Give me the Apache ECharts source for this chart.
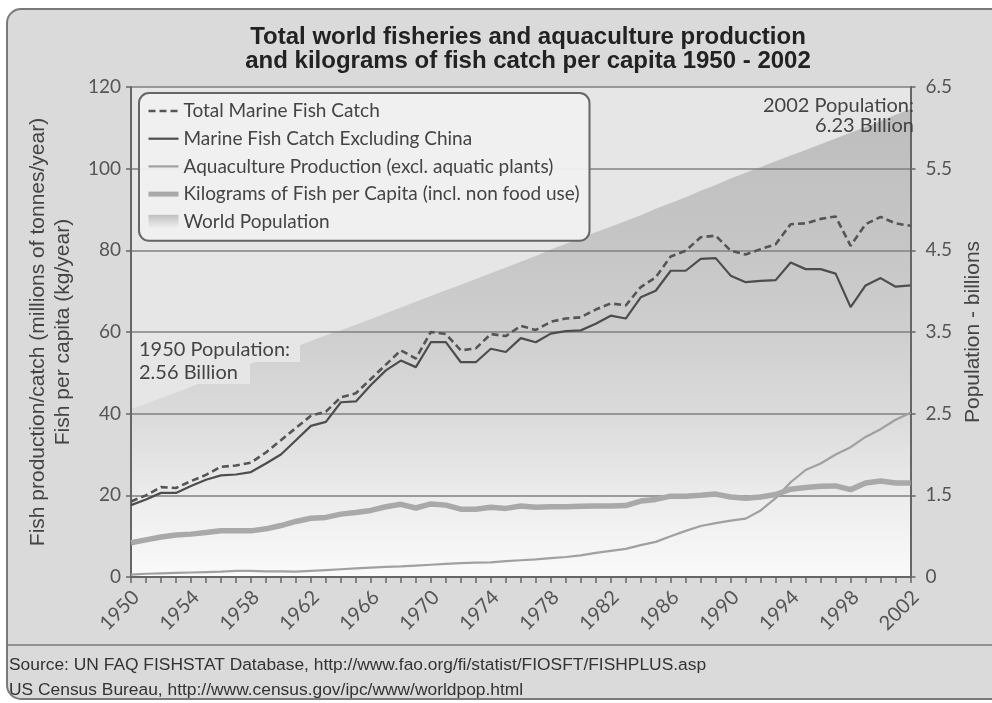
<!DOCTYPE html>
<html>
<head>
<meta charset="utf-8">
<script src="https://cdn.jsdelivr.net/npm/echarts@6/dist/echarts.min.js"></script>
<style>
html,body{margin:0;padding:0;background:#ffffff;}
#chart{width:992px;height:703px;}
</style>
</head>
<body>
<div id="chart"></div>
<script>
// ---- Data ----
const years = ['1950','1951','1952','1953','1954','1955','1956','1957','1958','1959',
  '1960','1961','1962','1963','1964','1965','1966','1967','1968','1969',
  '1970','1971','1972','1973','1974','1975','1976','1977','1978','1979',
  '1980','1981','1982','1983','1984','1985','1986','1987','1988','1989',
  '1990','1991','1992','1993','1994','1995','1996','1997','1998','1999',
  '2000','2001','2002'];

// Total Marine Fish Catch (millions of tonnes)
const totalCatch = [18.5,20.0,22.0,21.8,23.5,25.0,27.0,27.3,28.0,30.5,
  33.5,36.5,39.5,40.5,44.0,45.0,48.5,52.0,55.5,53.5,
  60.0,59.5,55.5,56.0,59.5,59.0,61.5,60.5,62.5,63.3,
  63.6,65.5,67.0,66.5,71.0,73.4,78.5,79.9,83.2,83.6,
  79.9,79.0,80.3,81.5,86.4,86.6,87.7,88.3,81.1,86.4,
  88.2,86.6,86.0];

// Marine Fish Catch Excluding China
const exclChina = [17.6,19.0,20.6,20.6,22.3,23.8,24.9,25.1,25.7,27.8,
  30.0,33.5,37.0,38.0,42.8,43.0,47.0,50.6,53.0,51.4,
  57.5,57.5,52.6,52.6,55.9,55.1,58.5,57.5,59.6,60.2,
  60.4,62.0,64.0,63.3,68.5,70.1,75.0,75.0,77.9,78.1,
  73.8,72.2,72.5,72.7,77.0,75.4,75.4,74.3,66.1,71.4,
  73.2,71.1,71.4];

// Aquaculture Production (excl. aquatic plants)
const aquaculture = [0.6,0.8,0.9,1.0,1.1,1.2,1.3,1.5,1.5,1.4,
  1.4,1.3,1.5,1.7,1.9,2.1,2.3,2.5,2.6,2.8,
  3.0,3.2,3.4,3.5,3.6,3.9,4.1,4.3,4.6,4.9,
  5.3,5.9,6.4,6.9,7.8,8.6,10.0,11.3,12.5,13.2,
  13.8,14.3,16.3,19.3,23.2,26.2,27.8,30.0,31.8,34.3,
  36.2,38.5,40.2];

// Kilograms of Fish per Capita
const perCapita = [8.4,9.1,9.8,10.3,10.5,10.9,11.3,11.3,11.3,11.8,
  12.6,13.6,14.4,14.6,15.4,15.8,16.3,17.2,17.8,16.9,
  17.9,17.6,16.6,16.6,17.1,16.8,17.4,17.1,17.2,17.2,
  17.3,17.4,17.4,17.5,18.6,19.0,19.8,19.8,20.0,20.3,
  19.6,19.3,19.6,20.2,21.5,21.9,22.2,22.3,21.4,23.0,
  23.5,23.0,23.0];

// World Population (billions)
const population = [2.56,2.62,2.69,2.76,2.83,2.90,2.97,3.04,3.11,3.18,
  3.25,3.32,3.39,3.46,3.52,3.59,3.66,3.73,3.80,3.87,
  3.94,4.01,4.08,4.15,4.22,4.29,4.36,4.43,4.51,4.58,
  4.65,4.72,4.79,4.86,4.93,5.01,5.08,5.15,5.23,5.30,
  5.38,5.45,5.52,5.59,5.66,5.73,5.80,5.87,5.94,6.01,
  6.08,6.16,6.23];

const rightTickLabels = ['0','1.5','2.5','3.5','4.5','5.5','6.5'];

const seriesNames = [
  'Total Marine Fish Catch',
  'Marine Fish Catch Excluding China',
  'Aquaculture Production (excl. aquatic plants)',
  'Kilograms of Fish per Capita (incl. non food use)',
  'World Population'
];

const titleLines = [
  'Total world fisheries and aquaculture production',
  'and kilograms of fish catch per capita 1950 - 2002'
];
const sourceLines = [
  'Source: UN FAQ FISHSTAT Database, http://www.fao.org/fi/statist/FIOSFT/FISHPLUS.asp',
  'US Census Bureau, http://www.census.gov/ipc/www/worldpop.html'
];

// ---- Chart ----
const chart = echarts.init(document.getElementById('chart'), null, {renderer:'canvas'});
const LG = echarts.graphic.LinearGradient;
const tickFont = 'Lato';
const sansFont = '"Liberation Sans", Arial, sans-serif';
const plotBg = '#e6e6e6';

const option = {
  animation: false,
  backgroundColor: '#ffffff',
  grid: {
    left: 131, right: 70, top: 87, bottom: 126,
    show: true, backgroundColor: plotBg, borderWidth: 0, z: -2
  },
  legend: {
    orient: 'vertical',
    left: 139, top: 93,
    padding: [8, 10, 9, 7],
    itemGap: 7.7,
    itemWidth: 30, itemHeight: 14,
    backgroundColor: 'rgba(240,240,240,0.95)',
    borderColor: '#666', borderWidth: 2, borderRadius: 10,
    itemStyle: { opacity: 0 },
    textStyle: { fontFamily: tickFont, fontSize: 19, color: '#444', lineHeight: 20 },
    data: [
      { name: seriesNames[0], lineStyle: { width: 2.4 } },
      { name: seriesNames[1], lineStyle: { width: 2.2 } },
      { name: seriesNames[2], lineStyle: { width: 2.2 } },
      { name: seriesNames[3], lineStyle: { width: 5 } },
      { name: seriesNames[4], icon: 'rect',
        itemStyle: { opacity: 1, color: new LG(0,0,0,1,[{offset:0,color:'#c0c0c0'},{offset:1,color:'#f2f2f2'}]) } }
    ]
  },
  xAxis: {
    type: 'category',
    data: years,
    boundaryGap: false,
    axisLine: { lineStyle: { color: '#666', width: 2 } },
    axisTick: { show: true, interval: 0, length: 6, lineStyle: { color: '#666', width: 1.5 } },
    axisLabel: { interval: 3, rotate: 45, margin: 22, padding: [0, -7, 0, 0],
      fontFamily: tickFont, fontSize: 20, color: '#555' },
    splitLine: { show: false }
  },
  yAxis: [
    {
      type: 'value', min: 0, max: 120, interval: 20, position: 'left',
      name: 'Fish production/catch (millions of tonnes/year)\nFish per capita (kg/year)',
      nameLocation: 'middle', nameRotate: 90, nameGap: 55,
      nameTextStyle: { fontFamily: sansFont, fontSize: 21, color: '#444', lineHeight: 25, align: 'center' },
      axisLine: { show: true, lineStyle: { color: '#666', width: 2 } },
      axisTick: { show: true, length: 5, lineStyle: { color: '#666', width: 1.5 } },
      axisLabel: { margin: 10, fontFamily: tickFont, fontSize: 19, color: '#555' },
      splitLine: { show: true, lineStyle: { color: '#808080', width: 1.6 } }
    },
    {
      type: 'value', min: 0.5, max: 6.5, interval: 1, position: 'right',
      name: 'Population - billions',
      nameLocation: 'middle', nameRotate: 90, nameGap: 44,
      nameTextStyle: { fontFamily: sansFont, fontSize: 21, color: '#444' },
      axisLine: { show: true, lineStyle: { color: '#666', width: 2 } },
      axisTick: { show: true, length: 5, lineStyle: { color: '#666', width: 1.5 } },
      axisLabel: { margin: 15, fontFamily: tickFont, fontSize: 19, color: '#555',
        formatter: function (v, i) { return rightTickLabels[i]; } },
      splitLine: { show: false }
    }
  ],
  series: [
    {
      name: seriesNames[4], type: 'line', yAxisIndex: 1, data: population,
      symbol: 'none', silent: true, z: -1,
      lineStyle: { width: 0 },
      itemStyle: { color: '#cccccc' },
      areaStyle: {
        opacity: 1,
        color: new LG(0, 108, 0, 577, [
          {offset: 0, color: '#bdbdbd'},
          {offset: 0.3, color: '#c6c6c6'},
          {offset: 0.5, color: '#d0d0d0'},
          {offset: 0.68, color: '#dddddd'},
          {offset: 0.84, color: '#ededed'},
          {offset: 1, color: '#fafafa'}
        ], true)
      }
    },
    {
      name: seriesNames[2], type: 'line', data: aquaculture, symbol: 'none', z: 3,
      itemStyle: { color: '#a0a0a0' },
      lineStyle: { color: '#a0a0a0', width: 2.2 }
    },
    {
      name: seriesNames[3], type: 'line', data: perCapita, symbol: 'none', z: 3,
      itemStyle: { color: '#a9a9a9' },
      lineStyle: { color: '#a9a9a9', width: 5.5 }
    },
    {
      name: seriesNames[1], type: 'line', data: exclChina, symbol: 'none', z: 4,
      itemStyle: { color: '#4d4d4d' },
      lineStyle: { color: '#4d4d4d', width: 2.2 }
    },
    {
      name: seriesNames[0], type: 'line', data: totalCatch, symbol: 'none', z: 4,
      itemStyle: { color: '#555555' },
      lineStyle: { color: '#555555', width: 2.6, type: [7, 4] }
    }
  ],
  graphic: [
    // outer frame
    { type: 'rect', z: -100, silent: true,
      shape: { x: 7, y: 9, width: 1010, height: 690, r: 14 },
      style: { fill: '#dadada', stroke: '#7a7a7a', lineWidth: 2 } },
    // separator above source
    { type: 'line', z: -99, silent: true,
      shape: { x1: 7, y1: 645, x2: 992, y2: 645 },
      style: { stroke: '#7a7a7a', lineWidth: 1.5 } },
    // title
    { type: 'text', z: 10, silent: true,
      style: { text: titleLines[0], x: 528, y: 37, align: 'center', verticalAlign: 'middle',
        font: 'bold 24px "Liberation Sans", Arial, sans-serif', fill: '#222' } },
    { type: 'text', z: 10, silent: true,
      style: { text: titleLines[1], x: 528, y: 61, align: 'center', verticalAlign: 'middle',
        font: 'bold 24px "Liberation Sans", Arial, sans-serif', fill: '#222' } },
    // 1950 annotation (with plot-coloured backing behind each line)
    { type: 'rect', z: 1, silent: true,
      shape: { x: 132, y: 334, width: 168, height: 28 },
      style: { fill: plotBg } },
    { type: 'rect', z: 1, silent: true,
      shape: { x: 132, y: 361, width: 118, height: 23 },
      style: { fill: plotBg } },
    { type: 'text', z: 10, silent: true,
      style: { text: '1950 Population:', x: 139, y: 350, verticalAlign: 'middle',
        font: '20px Lato', fill: '#444' } },
    { type: 'text', z: 10, silent: true,
      style: { text: '2.56 Billion', x: 139, y: 373, verticalAlign: 'middle',
        font: '20px Lato', fill: '#444' } },
    // 2002 annotation
    { type: 'text', z: 10, silent: true,
      style: { text: '2002 Population:', x: 914, y: 106, align: 'right', verticalAlign: 'middle',
        font: '20px Lato', fill: '#444' } },
    { type: 'text', z: 10, silent: true,
      style: { text: '6.23 Billion', x: 914, y: 126, align: 'right', verticalAlign: 'middle',
        font: '20px Lato', fill: '#444' } },
    // source
    { type: 'text', z: 10, silent: true,
      style: { text: sourceLines[0], x: 9, y: 665, verticalAlign: 'middle',
        font: '17.4px "Liberation Sans", Arial, sans-serif', fill: '#333' } },
    { type: 'text', z: 10, silent: true,
      style: { text: sourceLines[1], x: 9, y: 690, verticalAlign: 'middle',
        font: '17.4px "Liberation Sans", Arial, sans-serif', fill: '#333' } }
  ]
};
chart.setOption(option);
</script>
</body>
</html>
